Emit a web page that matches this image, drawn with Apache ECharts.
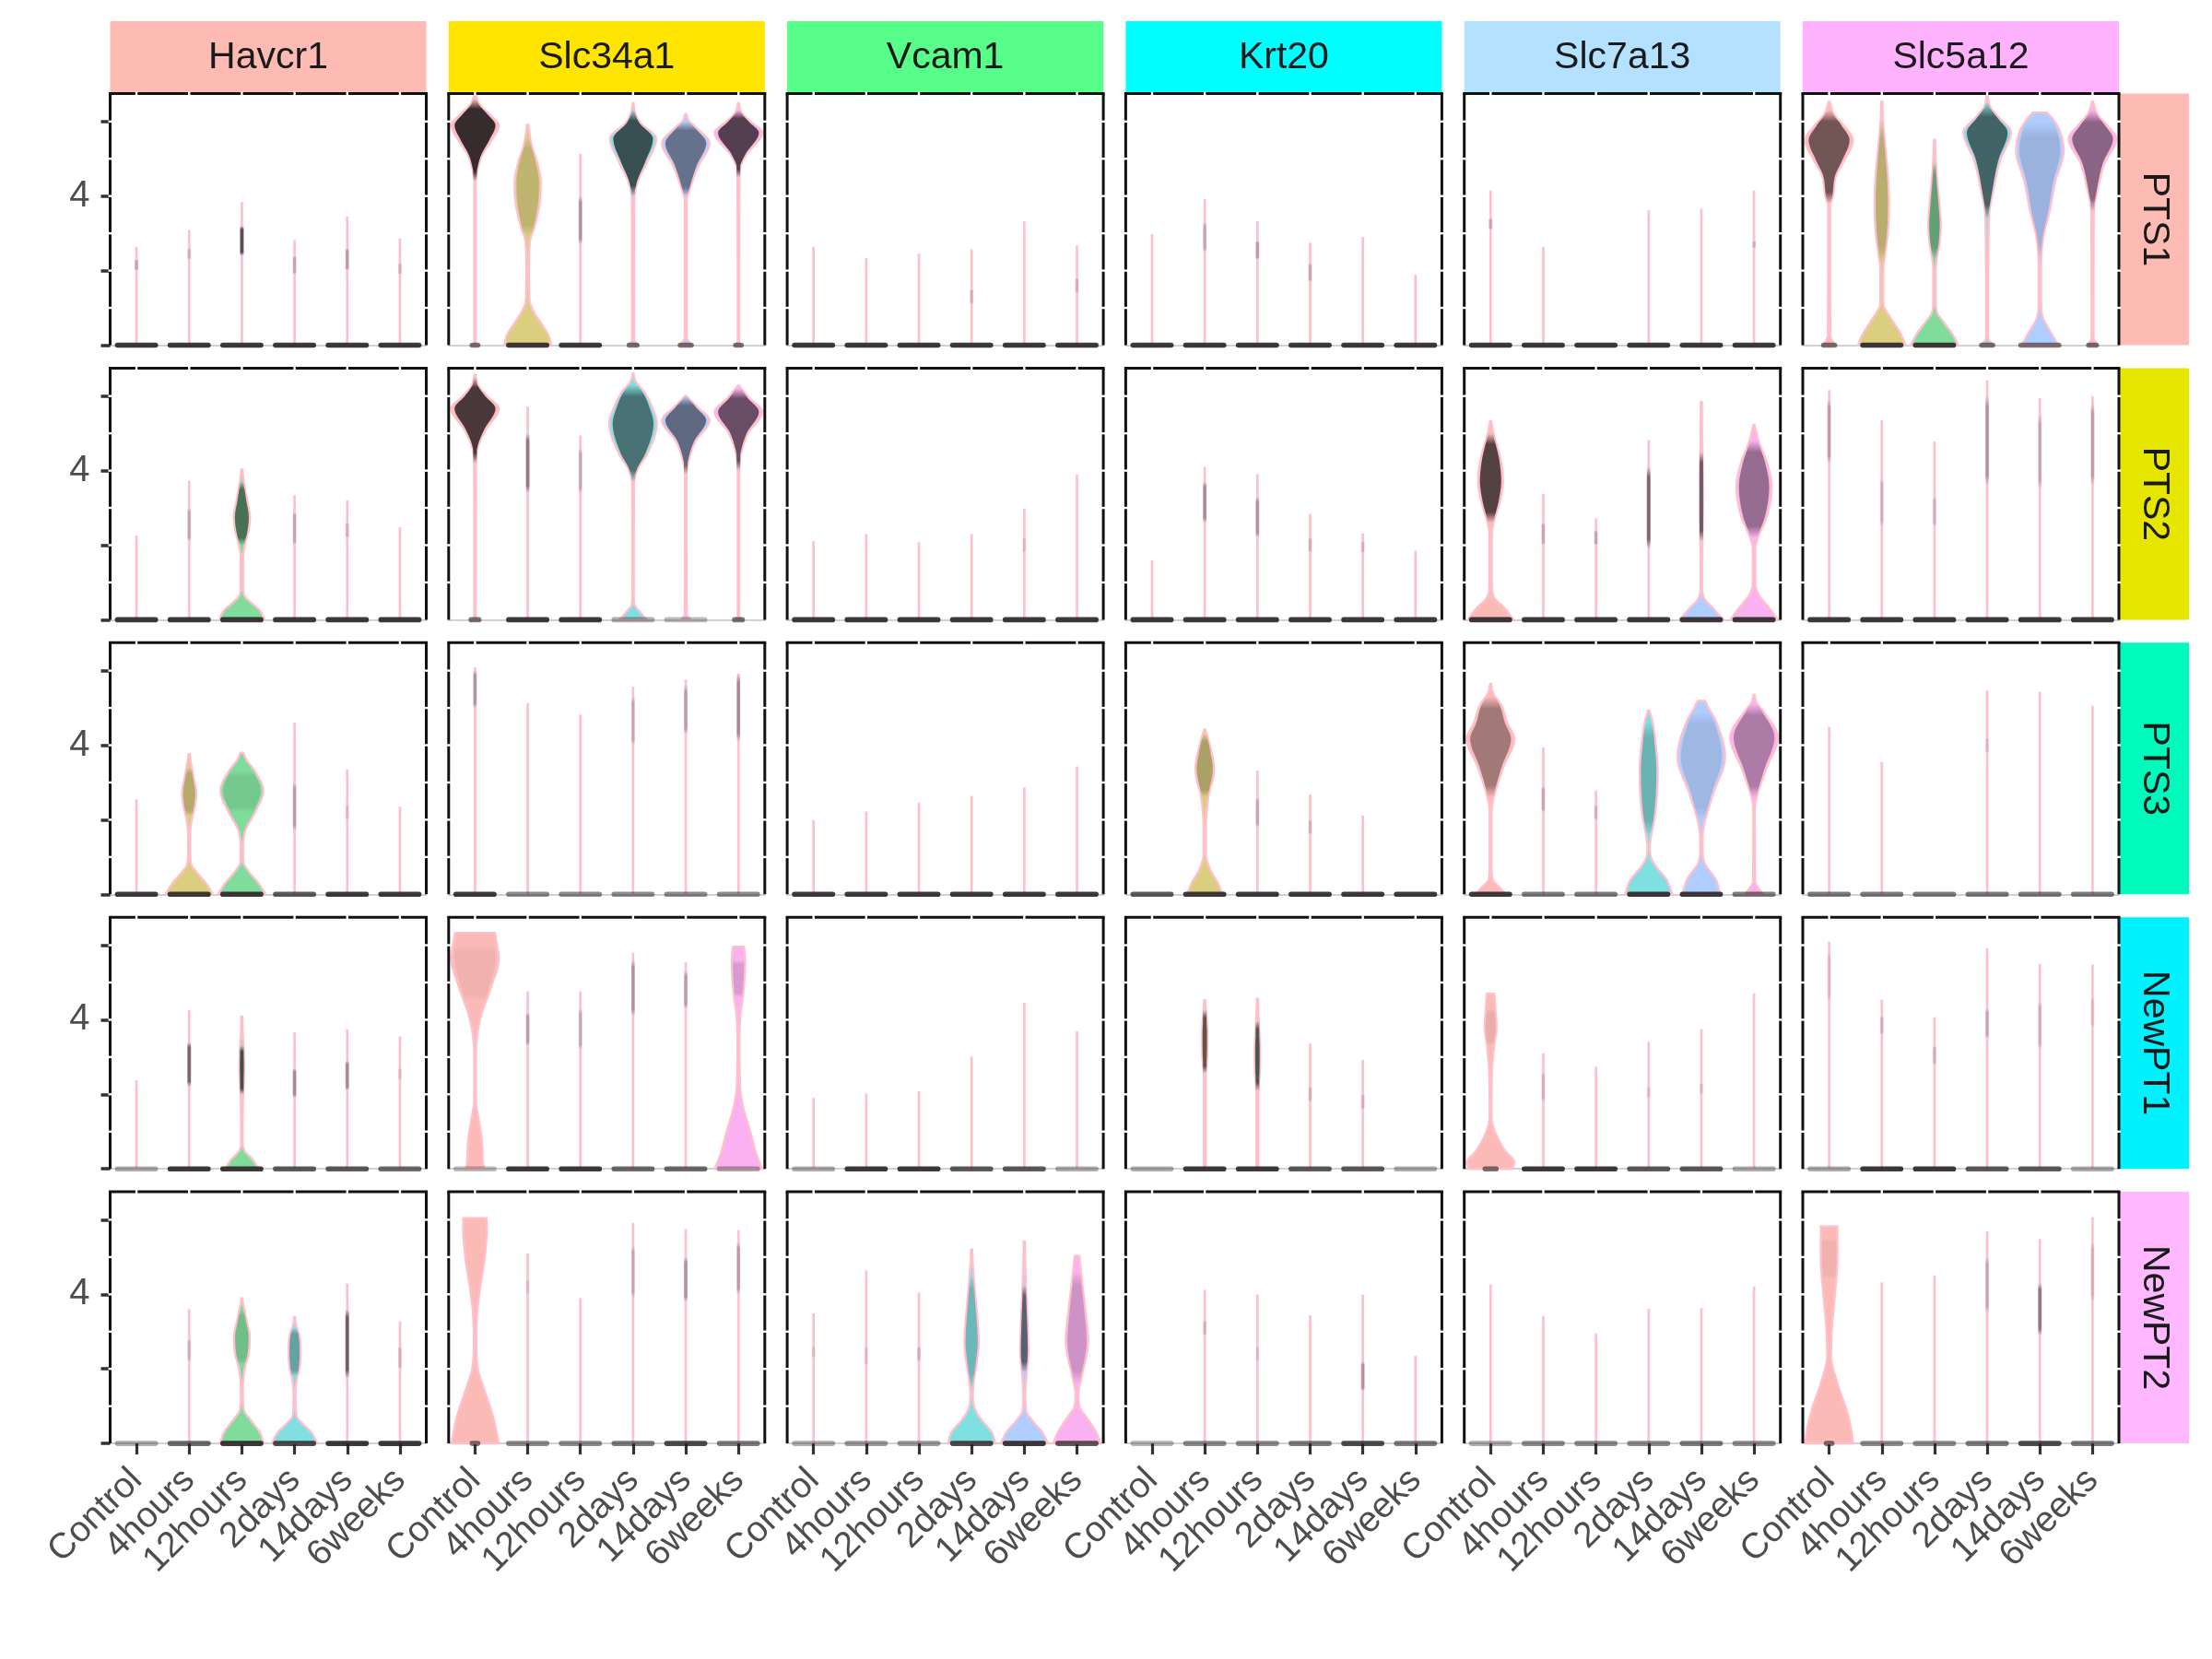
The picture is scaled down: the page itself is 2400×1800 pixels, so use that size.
<!DOCTYPE html>
<html><head><meta charset="utf-8">
<script src="https://cdn.jsdelivr.net/npm/echarts@6/dist/echarts.min.js"></script>
<style>html,body{margin:0;background:#fff}#c{width:2400px;height:1800px}</style>
</head><body><div id="c"></div><script>
// ---------------- DATA ----------------
const timepoints = ['Control','4hours','12hours','2days','14days','6weeks'];
const genes = ['Havcr1','Slc34a1','Vcam1','Krt20','Slc7a13','Slc5a12'];
const clusters = ['PTS1','PTS2','PTS3','NewPT1','NewPT2'];
const yTicks = [0,2,4,6];
const yLabels = [4];

// maximum expression (top of each violin); rows = genes, columns = timepoints
const topsPTS1 = [
 [2.64,3.09,3.84,2.82,3.45,2.86],
 [6.73,5.91,5.13,6.49,6.20,6.49],
 [2.64,2.34,2.45,2.57,3.32,2.68],
 [2.98,3.92,3.32,2.75,2.90,1.89],
 [4.15,2.64,0,3.62,3.66,4.15],
 [6.53,6.53,5.50,6.70,6.24,6.53]];
const topsPTS2 = [
 [2.26,3.73,4.03,3.34,3.20,2.48],
 [6.57,5.72,4.94,6.60,6.00,6.28],
 [2.11,2.30,2.08,2.30,2.98,3.89],
 [1.59,4.11,3.90,2.84,2.32,1.85],
 [5.33,3.38,2.72,4.82,5.84,5.22],
 [6.16,5.35,4.78,6.42,5.95,6.00]];
const topsPTS3 = [
 [2.55,3.76,3.80,4.60,3.35,2.35],
 [6.09,5.13,4.82,5.57,5.76,5.92],
 [1.99,2.22,2.45,2.64,2.87,3.43],
 [0,4.42,3.32,2.68,2.11,0],
 [5.64,3.94,2.78,4.92,5.19,5.35],
 [4.49,3.55,0,5.47,5.43,5.06]];
const topsNewPT1 = [
 [2.38,4.26,4.08,3.66,3.74,3.55],
 [6.33,4.76,4.76,5.80,5.55,5.96],
 [1.90,2.02,2.08,3.01,4.46,3.69],
 [0,4.52,4.56,3.36,2.92,0],
 [4.70,3.10,2.74,3.41,3.75,4.71],
 [6.09,4.54,4.07,5.92,5.50,5.48]];
const topsNewPT2 = [
 [0,3.60,3.89,3.39,4.29,3.28],
 [6.04,5.10,3.90,5.92,5.75,5.72],
 [3.49,4.64,4.05,5.20,5.41,5.03],
 [0,4.12,4.00,3.44,3.99,2.35],
 [4.26,3.42,2.95,3.61,3.63,4.21],
 [5.82,4.32,4.50,5.69,5.48,6.07]];

// weight of the zero-expression cell cloud (0..1)
const zeroPTS1 = [
 [1,1,1,1,1,1],[0.1,1,1,0.12,0.15,0.1],[1,1,1,1,1,1],
 [1,1,1,1,1,1],[1,1,1,1,1,1],[0.15,1,1,0.15,0.6,0.12]];
const zeroPTS2 = [
 [1,1,1,1,1,1],[0.12,1,1,0.3,0.2,0.12],[1,1,1,1,1,1],
 [1,1,1,1,1,1],[1,1,1,1,1,1],[1,1,1,1,1,1]];
const zeroPTS3 = [
 [1,1,1,0.8,1,1],[1,0.5,0.5,0.5,0.5,0.5],[1,1,1,1,1,1],
 [0.8,1,1,1,1,1],[1,0.6,0.6,1,1,0.6],[0.6,0.6,0.6,0.6,0.6,0.6]];
const zeroNewPT1 = [
 [0.3,1,1,0.8,0.8,0.7],[0.2,1,1,0.7,0.7,0.3],[0.3,1,1,0.8,0.8,0.3],
 [0.3,1,1,0.8,0.8,0.3],[0.15,1,1,0.8,0.8,0.3],[0.3,1,1,0.8,0.8,0.3]];
const zeroNewPT2 = [
 [0.3,0.7,1,0.9,1,1],[0.1,0.5,0.5,0.6,0.9,0.6],[0.3,0.4,0.4,0.9,1,0.8],
 [0.25,0.5,0.5,0.6,0.9,0.6],[0.3,0.5,0.5,0.5,0.6,0.5],[0.1,0.5,0.5,0.6,0.9,0.6]];

// violin density profiles: [expression, relative half width]
const bodies = [
 ['PTS1','Slc34a1','Control',[[0,0.08],[0.1,0.03],[4.4,0.03],[4.7,0.1],[5.1,0.3],[5.5,0.7],[5.9,1.0],[6.2,0.6],[6.45,0.2],[6.73,0.02]]],
 ['PTS1','Slc34a1','4hours',[[0,1.0],[0.3,0.85],[0.6,0.55],[0.9,0.25],[1.2,0.08],[2.0,0.05],[2.8,0.1],[3.2,0.3],[3.8,0.5],[4.35,0.55],[4.9,0.4],[5.4,0.15],[5.91,0.03]]],
 ['PTS1','Slc34a1','2days',[[0,0.2],[0.15,0.04],[3.9,0.05],[4.4,0.2],[4.9,0.58],[5.54,0.97],[5.97,0.3],[6.25,0.08],[6.49,0.02]]],
 ['PTS1','Slc34a1','14days',[[0,0.23],[0.2,0.04],[3.9,0.04],[4.15,0.15],[4.8,0.52],[5.42,1.0],[5.8,0.5],[6.0,0.15],[6.2,0.02]]],
 ['PTS1','Slc34a1','6weeks',[[0,0.1],[0.1,0.03],[4.55,0.04],[4.8,0.08],[5.13,0.35],[5.7,1.0],[6.0,0.5],[6.25,0.12],[6.49,0.02]]],
 ['PTS1','Slc5a12','Control',[[0,0.25],[0.25,0.05],[3.75,0.04],[3.98,0.15],[4.56,0.3],[4.97,0.65],[5.5,1.0],[5.9,0.6],[6.2,0.2],[6.53,0.02]]],
 ['PTS1','Slc5a12','4hours',[[0,1.0],[0.3,0.8],[0.6,0.5],[0.9,0.2],[1.1,0.06],[2.0,0.06],[2.5,0.15],[3.0,0.25],[3.8,0.3],[4.6,0.25],[5.3,0.15],[6.0,0.05],[6.53,0.02]]],
 ['PTS1','Slc5a12','12hours',[[0,1.0],[0.3,0.75],[0.6,0.4],[0.86,0.12],[1.2,0.05],[2.0,0.05],[2.34,0.1],[2.8,0.22],[3.25,0.26],[3.8,0.2],[4.5,0.1],[4.97,0.05],[5.5,0.02]]],
 ['PTS1','Slc5a12','2days',[[0,0.25],[0.2,0.04],[3.4,0.07],[4.14,0.25],[4.97,0.55],[5.71,1.0],[6.1,0.5],[6.4,0.12],[6.7,0.02]]],
 ['PTS1','Slc5a12','14days',[[0,0.77],[0.3,0.5],[0.79,0.1],[1.2,0.05],[2.17,0.05],[2.92,0.15],[3.57,0.4],[4.39,0.65],[5.22,1.0],[5.8,0.8],[6.1,0.5],[6.24,0.3]]],
 ['PTS1','Slc5a12','6weeks',[[0,0.2],[0.2,0.04],[3.57,0.05],[4.14,0.2],[4.88,0.5],[5.54,1.0],[5.9,0.6],[6.2,0.2],[6.53,0.02]]],
 ['PTS2','Havcr1','12hours',[[0,0.96],[0.25,0.75],[0.45,0.4],[0.63,0.12],[0.9,0.05],[1.7,0.05],[2.0,0.12],[2.4,0.28],[2.75,0.34],[3.2,0.22],[3.7,0.08],[4.03,0.02]]],
 ['PTS2','Slc34a1','Control',[[0,0.1],[0.1,0.03],[4.29,0.04],[4.7,0.15],[5.1,0.45],[5.67,1.0],[6.0,0.5],[6.3,0.12],[6.57,0.02]]],
 ['PTS2','Slc34a1','2days',[[0,0.57],[0.2,0.3],[0.4,0.06],[0.7,0.03],[3.67,0.04],[4.05,0.2],[4.46,0.6],[5.27,1.0],[5.7,0.8],[6.08,0.5],[6.4,0.1],[6.6,0.02]]],
 ['PTS2','Slc34a1','14days',[[0,0.2],[0.15,0.04],[3.89,0.03],[4.29,0.12],[4.78,0.4],[5.35,1.0],[5.7,0.5],[6.0,0.02]]],
 ['PTS2','Slc34a1','6weeks',[[0,0.12],[0.1,0.03],[3.98,0.03],[4.46,0.1],[5.0,0.4],[5.58,1.0],[5.95,0.45],[6.28,0.02]]],
 ['PTS2','Slc7a13','Control',[[0,0.96],[0.3,0.6],[0.63,0.12],[1.0,0.05],[2.3,0.05],[2.58,0.12],[3.2,0.4],[3.72,0.52],[4.3,0.42],[5.0,0.12],[5.33,0.02]]],
 ['PTS2','Slc7a13','14days',[[0,0.93],[0.3,0.5],[0.63,0.08],[1.0,0.03],[2.1,0.04],[3.0,0.07],[4.0,0.06],[4.5,0.04],[5.84,0.015]]],
 ['PTS2','Slc7a13','6weeks',[[0,1.0],[0.3,0.65],[0.72,0.15],[1.1,0.05],[1.9,0.05],[2.18,0.15],[2.8,0.55],[3.56,0.74],[4.2,0.55],[4.78,0.2],[5.22,0.02]]],
 ['PTS3','Havcr1','4hours',[[0,1.0],[0.3,0.7],[0.6,0.3],[0.82,0.08],[1.2,0.04],[1.7,0.05],[2.04,0.12],[2.4,0.25],[2.7,0.3],[3.1,0.2],[3.5,0.08],[3.76,0.02]]],
 ['PTS3','Havcr1','12hours',[[0,1.0],[0.3,0.7],[0.6,0.3],[0.9,0.05],[1.3,0.05],[1.72,0.15],[2.2,0.55],[2.78,0.9],[3.3,0.55],[3.6,0.2],[3.8,0.05]]],
 ['PTS3','Krt20','4hours',[[0,0.75],[0.3,0.55],[0.7,0.2],[1.1,0.05],[1.8,0.05],[2.6,0.15],[3.36,0.39],[3.9,0.25],[4.3,0.08],[4.42,0.02]]],
 ['PTS3','Slc7a13','Control',[[0,0.64],[0.2,0.35],[0.4,0.08],[0.8,0.04],[2.2,0.04],[2.45,0.08],[2.87,0.25],[3.43,0.55],[4.17,1.0],[4.6,0.7],[5.07,0.45],[5.4,0.1],[5.64,0.02]]],
 ['PTS3','Slc7a13','2days',[[0,1.0],[0.4,0.75],[0.75,0.3],[0.98,0.1],[1.3,0.05],[1.55,0.1],[2.2,0.28],[3.27,0.38],[4.0,0.3],[4.66,0.15],[4.92,0.03]]],
 ['PTS3','Slc7a13','14days',[[0,0.8],[0.4,0.6],[0.82,0.15],[1.2,0.05],[1.47,0.05],[1.88,0.12],[2.7,0.5],[3.68,1.0],[4.66,0.6],[5.0,0.3],[5.19,0.15]]],
 ['PTS3','Slc7a13','6weeks',[[0,0.38],[0.2,0.15],[0.33,0.04],[2.2,0.03],[2.4,0.04],[2.7,0.15],[3.35,0.5],[4.21,1.0],[4.9,0.4],[5.15,0.1],[5.35,0.02]]],
 ['NewPT1','Havcr1','12hours',[[0,0.7],[0.25,0.45],[0.5,0.1],[0.8,0.03],[2.0,0.05],[2.7,0.1],[3.2,0.08],[3.6,0.04],[4.08,0.015]]],
 ['NewPT1','Slc34a1','Control',[[0,0.39],[0.2,0.33],[0.67,0.3],[1.33,0.15],[1.8,0.04],[3.0,0.03],[3.53,0.08],[4.1,0.25],[4.83,0.65],[5.65,1.0],[6.1,0.9],[6.33,0.84]]],
 ['NewPT1','Slc34a1','6weeks',[[0,1.0],[0.4,0.75],[1.0,0.5],[1.65,0.2],[2.31,0.06],[3.45,0.04],[4.1,0.08],[4.7,0.2],[5.6,0.28],[5.96,0.23]]],
 ['NewPT1','Krt20','4hours',[[0,0.04],[2.5,0.04],[3.0,0.1],[3.6,0.11],[4.26,0.05],[4.52,0.02]]],
 ['NewPT1','Krt20','12hours',[[0,0.04],[2.09,0.04],[2.6,0.1],[3.2,0.11],[3.97,0.05],[4.56,0.02]]],
 ['NewPT1','Slc7a13','Control',[[0,0.9],[0.16,1.0],[0.49,0.6],[1.05,0.15],[1.43,0.04],[2.5,0.05],[3.3,0.15],[3.8,0.25],[4.3,0.2],[4.7,0.16]]],
 ['NewPT2','Havcr1','12hours',[[0,0.92],[0.3,0.75],[0.6,0.4],[0.91,0.08],[1.4,0.04],[2.01,0.12],[2.4,0.28],[2.86,0.33],[3.3,0.2],[3.79,0.04],[3.89,0.015]]],
 ['NewPT2','Havcr1','2days',[[0,0.96],[0.3,0.7],[0.55,0.3],[0.74,0.08],[1.2,0.04],[1.67,0.08],[2.0,0.2],[2.43,0.25],[2.9,0.2],[3.19,0.06],[3.39,0.015]]],
 ['NewPT2','Slc34a1','Control',[[0,1.0],[0.74,0.75],[1.42,0.4],[2.0,0.12],[2.77,0.05],[3.44,0.08],[4.12,0.2],[4.96,0.4],[5.8,0.5],[6.04,0.48]]],
 ['NewPT2','Vcam1','2days',[[0,1.0],[0.3,0.85],[0.6,0.45],[0.9,0.15],[1.3,0.05],[1.6,0.08],[2.2,0.22],[2.7,0.3],[3.3,0.25],[4.0,0.15],[4.7,0.06],[5.2,0.02]]],
 ['NewPT2','Vcam1','14days',[[0,1.0],[0.3,0.75],[0.6,0.35],[0.86,0.08],[1.3,0.04],[1.9,0.1],[2.46,0.17],[3.2,0.14],[4.24,0.07],[4.8,0.04],[5.41,0.015]]],
 ['NewPT2','Vcam1','6weeks',[[0,1.0],[0.3,0.8],[0.7,0.4],[0.96,0.12],[1.33,0.06],[1.8,0.2],[2.74,0.47],[3.6,0.35],[4.4,0.2],[4.9,0.12],[5.03,0.1]]],
 ['NewPT2','Slc5a12','Control',[[0,1.0],[0.3,0.95],[0.86,0.75],[1.61,0.35],[2.37,0.08],[3.12,0.12],[4.05,0.25],[5.0,0.35],[5.82,0.35]]]
];

// dense point clouds drawn over the violins: [cluster, gene, time, from, to, strength]
const darkBands = [
 ['PTS1','Havcr1','Control',2.0,2.3,0.2],['PTS1','Havcr1','4hours',2.3,2.6,0.15],['PTS1','Havcr1','12hours',2.4,3.2,0.7],
 ['PTS1','Havcr1','2days',1.9,2.4,0.2],['PTS1','Havcr1','14days',2.0,2.6,0.25],['PTS1','Havcr1','6weeks',1.9,2.2,0.15],
 ['PTS1','Slc34a1','Control',4.4,6.6,0.88],['PTS1','Slc34a1','4hours',2.9,5.6,0.15],['PTS1','Slc34a1','12hours',2.7,4.0,0.3],
 ['PTS1','Slc34a1','2days',4.0,6.3,0.72],['PTS1','Slc34a1','14days',4.0,6.0,0.5],['PTS1','Slc34a1','6weeks',4.5,6.3,0.75],
 ['PTS1','Vcam1','2days',1.1,1.5,0.15],['PTS1','Vcam1','6weeks',1.4,1.8,0.15],
 ['PTS1','Krt20','4hours',2.5,3.3,0.2],['PTS1','Krt20','12hours',2.3,2.8,0.25],['PTS1','Krt20','2days',1.7,2.2,0.2],
 ['PTS1','Slc7a13','Control',3.1,3.4,0.2],['PTS1','Slc7a13','6weeks',2.6,2.8,0.15],
 ['PTS1','Slc5a12','Control',3.8,6.3,0.62],['PTS1','Slc5a12','4hours',2.2,6.0,0.18],['PTS1','Slc5a12','12hours',2.3,4.9,0.3],
 ['PTS1','Slc5a12','2days',3.4,6.5,0.62],['PTS1','Slc5a12','14days',2.3,6.0,0.15],['PTS1','Slc5a12','6weeks',3.6,6.3,0.5],
 ['PTS2','Havcr1','4hours',2.1,3.0,0.2],['PTS2','Havcr1','12hours',2.0,3.7,0.55],['PTS2','Havcr1','2days',2.0,2.9,0.2],['PTS2','Havcr1','14days',2.2,2.6,0.15],
 ['PTS2','Slc34a1','Control',4.2,6.5,0.8],['PTS2','Slc34a1','4hours',3.4,5.0,0.45],['PTS2','Slc34a1','12hours',3.4,4.6,0.2],
 ['PTS2','Slc34a1','2days',3.7,6.3,0.55],['PTS2','Slc34a1','14days',3.9,6.0,0.55],['PTS2','Slc34a1','6weeks',4.0,6.2,0.65],
 ['PTS2','Vcam1','14days',1.8,2.2,0.1],
 ['PTS2','Krt20','4hours',2.6,3.7,0.35],['PTS2','Krt20','12hours',2.2,3.3,0.3],['PTS2','Krt20','2days',1.8,2.2,0.15],['PTS2','Krt20','14days',1.8,2.1,0.15],
 ['PTS2','Slc7a13','Control',2.6,5.0,0.75],['PTS2','Slc7a13','4hours',2.0,2.6,0.2],['PTS2','Slc7a13','12hours',2.0,2.4,0.2],
 ['PTS2','Slc7a13','2days',1.9,4.1,0.55],['PTS2','Slc7a13','14days',2.1,4.5,0.6],['PTS2','Slc7a13','6weeks',2.2,4.8,0.45],
 ['PTS2','Slc5a12','Control',4.2,5.9,0.25],['PTS2','Slc5a12','4hours',2.5,3.8,0.15],['PTS2','Slc5a12','12hours',2.5,3.3,0.15],
 ['PTS2','Slc5a12','2days',3.6,6.0,0.3],['PTS2','Slc5a12','14days',3.5,5.5,0.2],['PTS2','Slc5a12','6weeks',3.6,5.8,0.25],
 ['PTS3','Havcr1','4hours',2.1,3.4,0.2],['PTS3','Havcr1','12hours',2.2,3.3,0.1],['PTS3','Havcr1','2days',1.7,3.0,0.25],['PTS3','Havcr1','14days',2.0,2.4,0.1],
 ['PTS3','Slc34a1','Control',5.0,6.0,0.3],['PTS3','Slc34a1','2days',4.0,5.3,0.2],['PTS3','Slc34a1','14days',4.3,5.6,0.25],['PTS3','Slc34a1','6weeks',4.1,5.9,0.35],
 ['PTS3','Krt20','4hours',2.6,4.3,0.25],['PTS3','Krt20','12hours',1.8,2.6,0.2],['PTS3','Krt20','2days',1.6,2.0,0.15],
 ['PTS3','Slc7a13','Control',2.6,5.3,0.4],['PTS3','Slc7a13','4hours',2.2,2.9,0.2],['PTS3','Slc7a13','12hours',2.0,2.4,0.15],
 ['PTS3','Slc7a13','2days',1.6,4.6,0.22],['PTS3','Slc7a13','14days',2.0,4.9,0.12],['PTS3','Slc7a13','6weeks',2.6,5.1,0.35],
 ['PTS3','Slc5a12','2days',3.8,4.2,0.1],
 ['NewPT1','Havcr1','4hours',2.2,3.4,0.55],['NewPT1','Havcr1','12hours',2.0,3.3,0.7],['NewPT1','Havcr1','2days',1.9,2.7,0.35],
 ['NewPT1','Havcr1','14days',2.1,2.9,0.35],['NewPT1','Havcr1','6weeks',2.4,2.7,0.1],
 ['NewPT1','Slc34a1','Control',4.5,6.0,0.05],['NewPT1','Slc34a1','4hours',3.3,4.2,0.25],['NewPT1','Slc34a1','12hours',3.2,4.3,0.2],
 ['NewPT1','Slc34a1','2days',4.1,5.6,0.3],['NewPT1','Slc34a1','14days',4.3,5.3,0.25],['NewPT1','Slc34a1','6weeks',4.6,5.6,0.15],
 ['NewPT1','Krt20','4hours',2.56,4.26,0.65],['NewPT1','Krt20','12hours',2.09,3.97,0.65],['NewPT1','Krt20','2days',1.8,2.2,0.15],['NewPT1','Krt20','14days',1.6,2.0,0.15],
 ['NewPT1','Slc7a13','Control',3.3,4.3,0.08],['NewPT1','Slc7a13','4hours',1.8,2.6,0.15],['NewPT1','Slc7a13','2days',1.9,2.2,0.1],['NewPT1','Slc7a13','14days',2.0,2.3,0.1],
 ['NewPT1','Slc5a12','Control',4.5,5.8,0.1],['NewPT1','Slc5a12','4hours',3.6,4.1,0.15],['NewPT1','Slc5a12','12hours',2.8,3.3,0.15],
 ['NewPT1','Slc5a12','2days',3.5,4.3,0.2],['NewPT1','Slc5a12','14days',3.2,4.5,0.15],['NewPT1','Slc5a12','6weeks',3.8,4.6,0.1],
 ['NewPT2','Havcr1','4hours',2.2,2.8,0.15],['NewPT2','Havcr1','12hours',2.1,3.6,0.15],['NewPT2','Havcr1','2days',1.8,3.1,0.3],
 ['NewPT2','Havcr1','14days',1.75,3.6,0.6],['NewPT2','Havcr1','6weeks',2.0,2.6,0.15],
 ['NewPT2','Slc34a1','4hours',4.0,4.4,0.1],['NewPT2','Slc34a1','2days',3.9,5.3,0.2],['NewPT2','Slc34a1','14days',3.8,5.0,0.3],['NewPT2','Slc34a1','6weeks',4.0,5.4,0.25],
 ['NewPT2','Vcam1','Control',2.3,2.6,0.1],['NewPT2','Vcam1','4hours',2.1,2.6,0.1],['NewPT2','Vcam1','12hours',2.2,2.6,0.15],
 ['NewPT2','Vcam1','2days',1.5,4.5,0.2],['NewPT2','Vcam1','14days',1.9,4.24,0.6],['NewPT2','Vcam1','6weeks',1.6,4.6,0.2],
 ['NewPT2','Krt20','4hours',2.9,3.3,0.15],['NewPT2','Krt20','12hours',2.2,2.6,0.1],['NewPT2','Krt20','14days',1.4,2.2,0.3],
 ['NewPT2','Slc5a12','Control',4.4,5.5,0.05],['NewPT2','Slc5a12','2days',3.5,5.0,0.2],['NewPT2','Slc5a12','14days',2.9,4.3,0.45],['NewPT2','Slc5a12','6weeks',3.8,5.4,0.15]
];

// ---------------- STYLE ----------------
const geneStripColors = ['#FEBBB3','#FFE500','#57FF8A','#00FFFF','#B3E1FF','#FFB3FF'];
const clusterStripColors = ['#FEBBB3','#E6E600','#00FABB','#00F2FF','#FFB8FF'];
const timeColors = ['#F8766D','#B79F00','#00BA38','#00BFC4','#619CFF','#F564E3'];
const FONT = "'Liberation Sans', Arial, Helvetica, sans-serif";
const Y_MAX = 6.75;
const PANEL_W = 343, PANEL_H = 273;
const colLeft = k => 119.5 + 367.3 * k;
const rowTop = r => 101.5 + 297.9 * r;

const topsAll = [topsPTS1, topsPTS2, topsPTS3, topsNewPT1, topsNewPT2];
const zeroAll = [zeroPTS1, zeroPTS2, zeroPTS3, zeroNewPT1, zeroNewPT2];
const bodyMap = {}; bodies.forEach(b => bodyMap[b[0]+'|'+b[1]+'|'+b[2]] = b[3]);
const darkMap = {}; darkBands.forEach(d => darkMap[d[0]+'|'+d[1]+'|'+d[2]] = d.slice(3));

function hexA(hex, a){ const n=parseInt(hex.slice(1),16); return `rgba(${(n>>16)&255},${(n>>8)&255},${n&255},${a})`; }

function makeInterp(knots){
  const n=knots.length, xs=knots.map(k=>k[0]), ys=knots.map(k=>k[1]);
  if(n===1) return ()=>ys[0];
  const d=[], m=new Array(n);
  for(let i=0;i<n-1;i++) d.push((ys[i+1]-ys[i])/(xs[i+1]-xs[i]));
  m[0]=d[0]; m[n-1]=d[n-2];
  for(let i=1;i<n-1;i++) m[i]=(d[i-1]*d[i]<=0)?0:(d[i-1]+d[i])/2;
  for(let i=0;i<n-1;i++){
    if(d[i]===0){m[i]=0;m[i+1]=0;continue;}
    const a=m[i]/d[i], b=m[i+1]/d[i], s=a*a+b*b;
    if(s>9){const t=3/Math.sqrt(s); m[i]=t*a*d[i]; m[i+1]=t*b*d[i];}
  }
  return y=>{
    if(y<=xs[0]) return ys[0]; if(y>=xs[n-1]) return ys[n-1];
    let i=0; while(y>xs[i+1]) i++;
    const h=xs[i+1]-xs[i], t=(y-xs[i])/h, t2=t*t, t3=t2*t;
    return (2*t3-3*t2+1)*ys[i]+(t3-2*t2+t)*h*m[i]+(-2*t3+3*t2)*ys[i+1]+(t3-t2)*h*m[i+1];
  };
}

function violinRenderer(r, c){
  return function(params, api){
    const i = api.value(0), top = api.value(1);
    const key = clusters[r]+'|'+genes[c]+'|'+timepoints[i];
    const base = api.coord([i, 0]);
    const cx = base[0], y0 = base[1];
    const sz = api.size([1, 1]);
    const band = sz[0], unit = sz[1];
    const H = 0.45 * band;
    const ch = [];
    const body = bodyMap[key];
    const f = body ? makeInterp(body) : null;
    if (body) {
      const ya = body[0][0], yb = body[body.length-1][0], N = 160;
      const L = [], R = [];
      for (let s=0; s<=N; s++){
        const y = ya + (yb-ya)*s/N, py = y0 - y*unit;
        const hw = Math.max(0.6, Math.max(0, f(y))*H);
        L.push([cx-hw, py]); R.push([cx+hw, py]);
      }
      ch.push({type:'polygon', shape:{points:L.concat(R.reverse())},
        style:{fill:hexA(timeColors[i],0.5), stroke:'#FFC0CB', lineWidth:2.4}});
    } else if (top > 0) {
      ch.push({type:'line', shape:{x1:cx,y1:y0,x2:cx,y2:y0-top*unit},
        style:{stroke:'#FFC0CB', lineWidth:2.7}});
    }
    const dk = darkMap[key];
    if (dk) {
      const lo = dk[0], hi = Math.min(dk[1], top), a = dk[2], N = 80;
      const L = [], R = [];
      for (let s=0; s<=N; s++){
        const y = lo + (hi-lo)*s/N, py = y0 - y*unit;
        const hw = Math.max(2, f ? Math.max(0,f(y))*H*0.86 : 2);
        L.push([cx-hw, py]); R.push([cx+hw, py]);
      }
      const col = `rgba(28,24,26,${a})`, col0 = 'rgba(28,24,26,0)';
      ch.push({type:'polygon', shape:{points:L.concat(R.reverse())},
        style:{fill:new echarts.graphic.LinearGradient(0,0,0,1,[
          {offset:0,color:col0},{offset:0.12,color:col},{offset:0.88,color:col},{offset:1,color:col0}])}});
    }
    const z = zeroAll[r][c][i];
    if (z > 0) {
      const full = 0.82*band;
      const w = z >= 0.2 ? full : full*z*2.5;
      const a = z >= 0.2 ? 0.15 + 0.72*z : 0.6;
      ch.push({type:'rect', shape:{x:cx-w/2, y:y0-2.8, width:w, height:5.6, r:2.8},
        style:{fill:`rgba(35,30,32,${a})`}});
    }
    return {type:'group', children:ch};
  };
}

function frameRenderer(params, api){
  const cs = params.coordSys, x=cs.x, y=cs.y, w=cs.width, h=cs.height;
  const ch = [];
  const blk = {stroke:'#111', lineWidth:3};
  ch.push({type:'line', shape:{x1:x-1.5,y1:y,x2:x+w+1.5,y2:y}, style:blk});
  ch.push({type:'line', shape:{x1:x,y1:y,x2:x,y2:y+h}, style:blk});
  ch.push({type:'line', shape:{x1:x+w,y1:y,x2:x+w,y2:y+h}, style:blk});
  const wht = {stroke:'#fff', lineWidth:2.4};
  for (let k=1; k<=6; k++){
    const py = api.coord([0,k])[1];
    ch.push({type:'line', shape:{x1:x-2,y1:py,x2:x+2,y2:py}, style:wht});
    ch.push({type:'line', shape:{x1:x+w-2,y1:py,x2:x+w+2,y2:py}, style:wht});
  }
  for (let i=0; i<6; i++){
    const px = api.coord([i,0])[0];
    ch.push({type:'line', shape:{x1:px,y1:y-2,x2:px,y2:y+2}, style:wht});
  }
  return {type:'group', children:ch};
}

// ---------------- OPTION ----------------
const grid=[], xAxis=[], yAxis=[], series=[], graphics=[];
let idx = 0;
for (let r=0; r<clusters.length; r++){
  for (let c=0; c<genes.length; c++){
    const bottom = r === clusters.length-1, first = c === 0;
    grid.push({left:colLeft(c), top:rowTop(r), width:PANEL_W, height:PANEL_H, containLabel:false});
    xAxis.push({gridIndex:idx, type:'category', data:timepoints, boundaryGap:true,
      axisLine:{show:true, lineStyle:{color:'#D2D2D2', width:2}},
      axisTick:{show:bottom, alignWithLabel:true, length:12, lineStyle:{color:'#333', width:3.2}},
      axisLabel:{show:bottom, interval:0, rotate:45, fontSize:39, color:'#4D4D4D', margin:34, fontFamily:FONT},
      splitLine:{show:false}});
    yAxis.push({gridIndex:idx, type:'value', min:0, max:Y_MAX,
      axisLine:{show:false},
      axisTick:{show:first, length:10, customValues:yTicks, lineStyle:{color:'#333', width:3.5}},
      axisLabel:{show:first, customValues:yLabels, fontSize:40, color:'#4D4D4D', margin:22, fontFamily:FONT},
      splitLine:{show:false}});
    series.push({type:'custom', xAxisIndex:idx, yAxisIndex:idx, z:2, silent:true,
      renderItem:violinRenderer(r,c),
      data: timepoints.map((t,i)=>[i, topsAll[r][c][i]])});
    series.push({type:'custom', xAxisIndex:idx, yAxisIndex:idx, z:4, silent:true,
      renderItem:frameRenderer, data:[[0,0]]});
    idx++;
  }
}
genes.forEach((g,c)=>{
  graphics.push({type:'rect', shape:{x:colLeft(c), y:23, width:PANEL_W, height:78}, style:{fill:geneStripColors[c]}, silent:true});
  graphics.push({type:'text', x:colLeft(c)+PANEL_W/2, y:63, style:{text:g, fill:'#1A1A1A', font:`41px ${FONT}`, align:'center', verticalAlign:'middle'}, silent:true});
});
clusters.forEach((cl,r)=>{
  graphics.push({type:'rect', shape:{x:2299, y:rowTop(r), width:76, height:PANEL_H}, style:{fill:clusterStripColors[r]}, silent:true});
  graphics.push({type:'text', x:2337, y:rowTop(r)+PANEL_H/2, rotation:-Math.PI/2, style:{text:cl, fill:'#1A1A1A', font:`41px ${FONT}`, align:'center', verticalAlign:'middle'}, silent:true});
});

const chart = echarts.init(document.getElementById('c'), null, {renderer:'canvas'});
chart.setOption({animation:false, backgroundColor:'#fff', grid, xAxis, yAxis, series, graphic:{elements:graphics}});
</script></body></html>
